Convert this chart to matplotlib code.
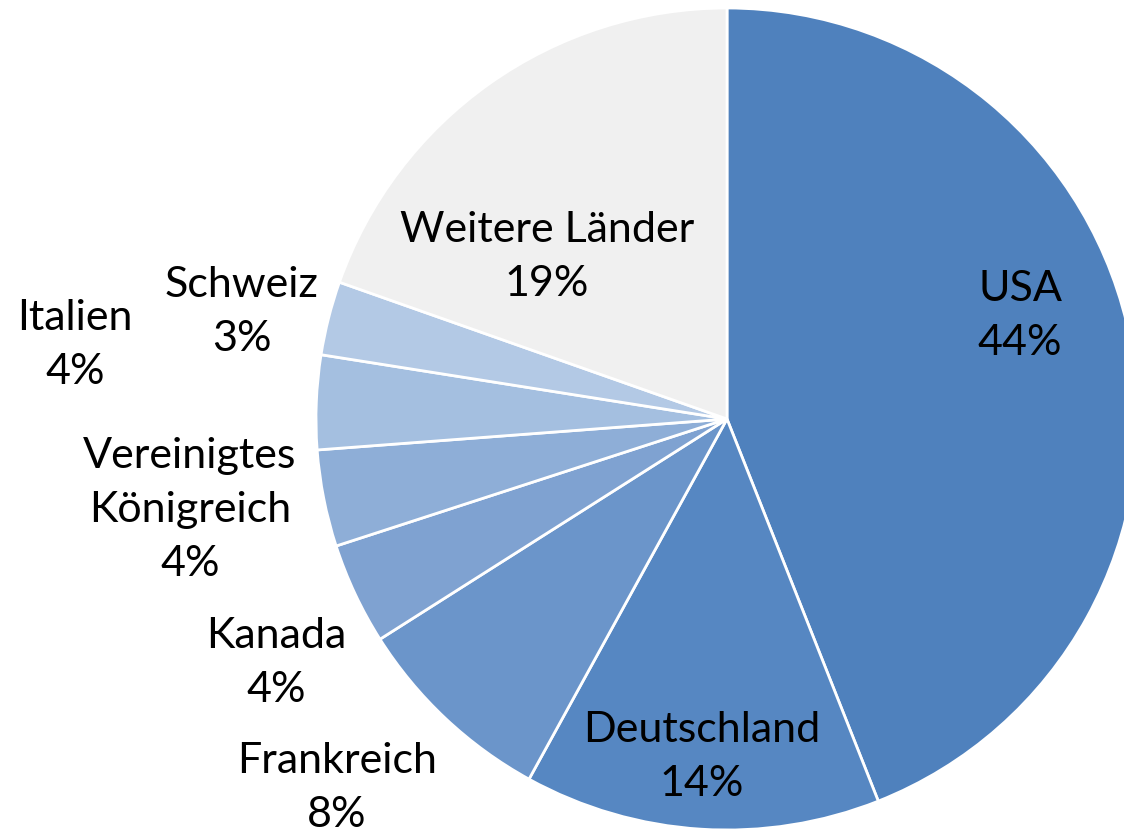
import matplotlib.pyplot as plt

# Anteile je Land (im Uhrzeigersinn ab 12 Uhr)
countries = ['USA', 'Deutschland', 'Frankreich', 'Kanada',
             'Vereinigtes\nKönigreich', 'Italien', 'Schweiz', 'Weitere Länder']
shares = [44.0, 14.0, 8.0, 4.0, 3.8, 3.7, 2.9, 19.6]
pct_text = ['44%', '14%', '8%', '4%', '4%', '4%', '3%', '19%']

colors = ['#4f81bd', '#5687c2', '#6b95ca', '#7fa2d1',
          '#8eaed7', '#a4bfe0', '#b3c9e5', '#f0f0f0']

# label centres in pixel coords (y measured from the top)
label_pos = [(1020, 316), (702, 757), (337, 788), (276, 663),
             (190, 510), (75, 345), (242, 312), (547, 257)]

W, H = 1124, 835
fig = plt.figure(figsize=(W / 100, H / 100), dpi=100)
ax = fig.add_axes([0, 0, 1, 1])
ax.axis('off')

ax.pie(shares, colors=colors, startangle=90, counterclock=False,
       center=(727, H - 419), radius=411,
       wedgeprops=dict(edgecolor='white', linewidth=2))
ax.set_xlim(0, W)
ax.set_ylim(0, H)
ax.set_aspect('equal')

for name, pct, (x, y) in zip(countries, pct_text, label_pos):
    ax.text(x, H - y, name + '\n' + pct, ha='center', va='center',
            fontsize=31, family='Lato', linespacing=1.52, color='black')

fig.savefig('out.png', dpi=100)
